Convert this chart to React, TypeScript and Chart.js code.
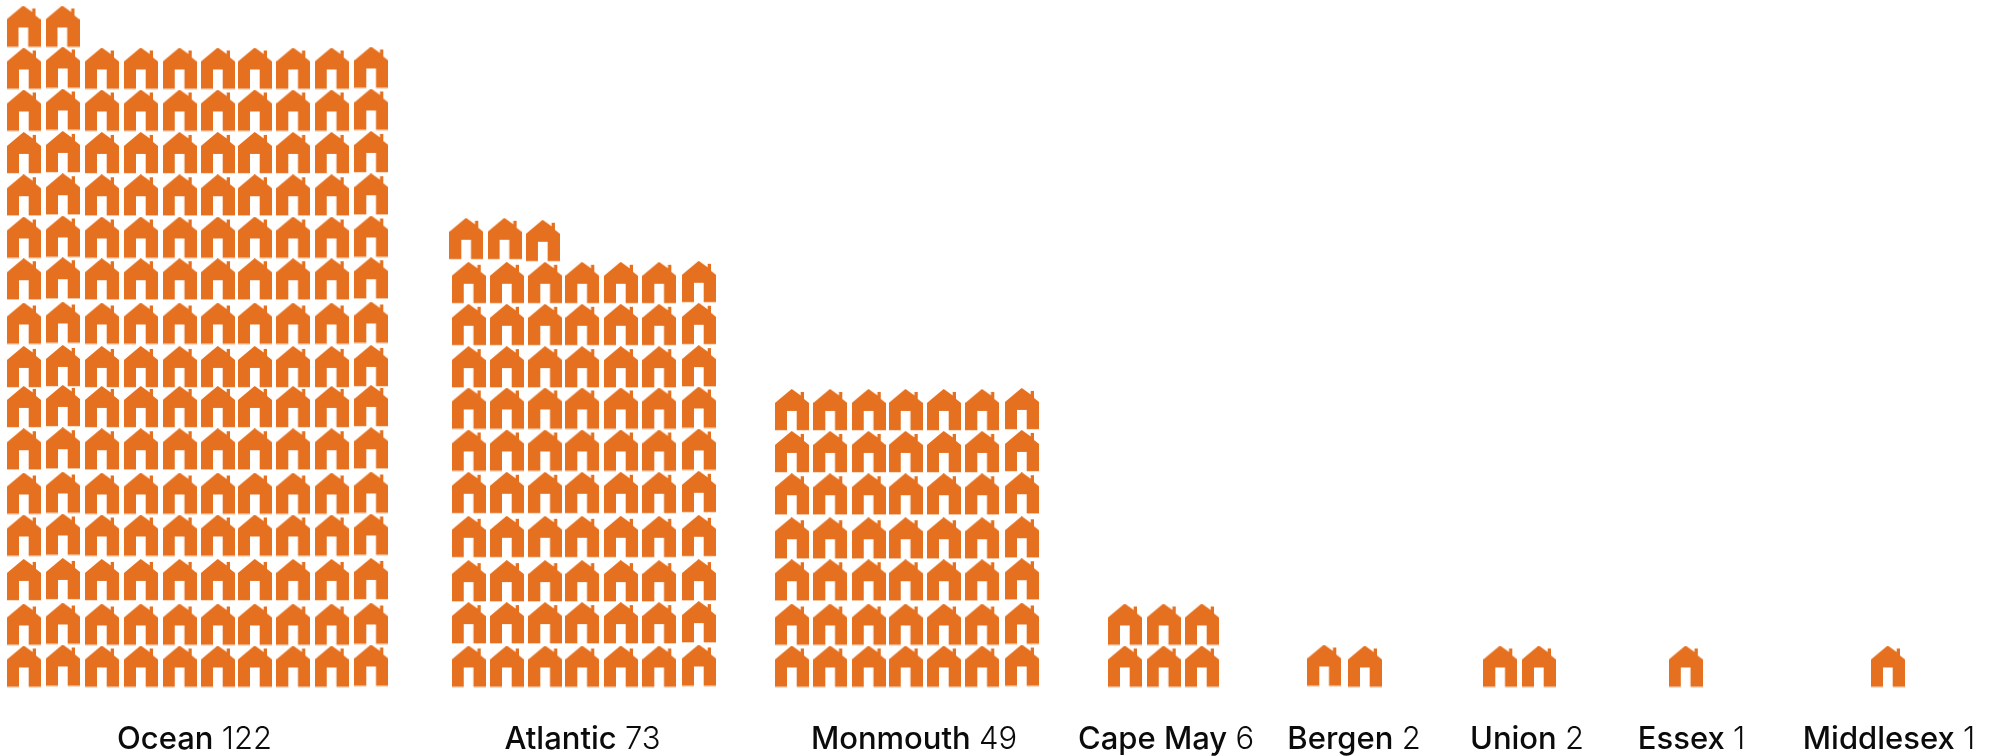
import React, { useEffect, useRef } from "react";
import { Chart, registerables } from "chart.js";

Chart.register(...registerables);

// ---- data ----
const counties = ["Ocean", "Atlantic", "Monmouth", "Cape May", "Bergen", "Union", "Essex", "Middlesex"];
const labelValues = [122, 73, 49, 6, 2, 2, 1, 1];
const housesDrawn = [152, 73, 49, 6, 2, 2, 1, 1];
const housesPerRow = [10, 7, 7, 3, 2, 2, 1, 1];

// ---- layout of the pictogram, in canvas units ----
const WIDTH = 1992;
const HEIGHT = 756;
const BASELINE = 687.5;
const HOUSE_W = 34;
const HOUSE_H = 41.3;
const ORANGE = "#E5701F";

const countyStart = [7, 451.7, 775, 1108, 1307.3, 1483.3, 1668.8, 1871];
const columnGaps = [
  [39, 39, 39, 38.7, 38.3, 37, 38.3, 38.4, 39.6],
  [38.3, 38.3, 37, 38.7, 38.3, 39.7],
  [38.3, 38.4, 37, 38.3, 38.3, 39.7],
  [38.7, 38.3],
  [40.7],
  [38.7],
  [],
  [],
];
const rowGaps = [
  [42, 44.6, 44.4, 42, 44.3, 42.3, 40, 43.4, 44.3, 41.7, 42.3, 42.3, 42.4, 42, 42],
  [43.4, 42, 44.3, 44, 42.3, 42, 41.4, 42.3, 42, 44],
  [42, 44.3, 42, 44, 42.3, 42],
  [42],
  [],
  [],
  [],
  [],
];
const columnLift = [
  [0, 1, 0, 0, 0, 0, 0, 0, 0, 1],
  [0, 0, 0, 0, 0, 0, 1],
  [0, 0, 0, 0, 0, 0, 1],
  [0, 0, 0],
  [1, 0],
  [0, 0],
  [0],
  [0],
];
// the last, unfinished row of a county sits slightly apart from the grid
const partialRowShift = [-0.5, -2.4, 0, 0, 0, 0, 0, 0];
const partialRowLift = [[0, 0], [0, 0, -2], [], [0, 0, -1], [], [], [], []];

const labelCenter = [194.5, 582.5, 914, 1166, 1354, 1527, 1691.5, 1889];
const LABEL_BASELINE = 749;
const NAME_FONT = '500 31px Inter, "Noto Sans", sans-serif';
const VALUE_FONT = '300 31px Inter, "Noto Sans", sans-serif';

function cumulative(gaps: number[], n: number) {
  const out = [0];
  for (let i = 0; i < n - 1; i++) out.push(out[i] + (gaps[i] ?? 42.4));
  return out;
}

function housePoints(c: number) {
  const per = housesPerRow[c];
  const total = housesDrawn[c];
  const rows = Math.ceil(total / per);
  const xs = cumulative(columnGaps[c], per);
  const ys = cumulative(rowGaps[c], rows);
  const pts: { x: number; y: number }[] = [];
  for (let i = 0; i < total; i++) {
    const col = i % per;
    const row = Math.floor(i / per);
    const partial = row === rows - 1 && total % per !== 0;
    const shift = partial ? partialRowShift[c] : 0;
    const lift = partial ? partialRowLift[c][col] ?? 0 : columnLift[c][col] ?? 0;
    pts.push({
      x: countyStart[c] + xs[col] + shift + HOUSE_W / 2,
      y: ys[row] + lift + 21,
    });
  }
  return pts;
}

function houseIcon() {
  const cv = document.createElement("canvas");
  cv.width = HOUSE_W;
  cv.height = 42;
  const ctx = cv.getContext("2d")!;
  ctx.fillStyle = ORANGE;
  ctx.beginPath();
  const outline = [
    [0, 14], [16.7, 0], [25.7, 6.5], [25.7, 3], [29, 3], [29, 10], [34, 14],
    [34, HOUSE_H], [21.7, HOUSE_H], [21.7, 22], [12, 22], [12, HOUSE_H], [0, HOUSE_H],
  ];
  outline.forEach(([x, y], i) => (i ? ctx.lineTo(x, y) : ctx.moveTo(x, y)));
  ctx.closePath();
  ctx.fill();
  return cv;
}

const countyLabels = {
  id: "countyLabels",
  afterDraw(chart: any) {
    const { ctx, scales } = chart;
    ctx.save();
    ctx.textBaseline = "alphabetic";
    ctx.textAlign = "left";
    ctx.fillStyle = "#0b0b0b";
    counties.forEach((name, i) => {
      const value = String(labelValues[i]);
      ctx.font = NAME_FONT;
      const nameText = name + " ";
      const nameW = ctx.measureText(nameText).width;
      ctx.font = VALUE_FONT;
      const valueW = ctx.measureText(value).width;
      const left = scales.x.getPixelForValue(labelCenter[i]) - (nameW + valueW) / 2;
      ctx.font = NAME_FONT;
      ctx.fillText(nameText, left, LABEL_BASELINE);
      ctx.font = VALUE_FONT;
      ctx.fillText(value, left + nameW, LABEL_BASELINE);
    });
    ctx.restore();
  },
};

export default function App() {
  const ref = useRef<HTMLCanvasElement>(null);
  useEffect(() => {
    const icon = houseIcon();
    const chart = new Chart(ref.current!, {
      type: "scatter",
      data: {
        datasets: counties.map((name, c) => ({
          label: name,
          data: housePoints(c),
          pointStyle: icon,
          pointRadius: 17,
          pointHoverRadius: 17,
          backgroundColor: ORANGE,
        })),
      },
      options: {
        animation: false,
        responsive: false,
        layout: { padding: 0, autoPadding: false },
        plugins: { legend: { display: false }, tooltip: { enabled: false } },
        scales: {
          x: { type: "linear", display: false, min: 0, max: WIDTH },
          y: { type: "linear", display: false, min: BASELINE - HEIGHT, max: BASELINE },
        },
      },
      plugins: [countyLabels],
    } as any);
    return () => chart.destroy();
  }, []);
  return (
    <canvas
      ref={ref}
      width={WIDTH}
      height={HEIGHT}
      style={{ position: "absolute", left: 0, top: 0, width: WIDTH, height: HEIGHT, background: "#fff" }}
    />
  );
}
